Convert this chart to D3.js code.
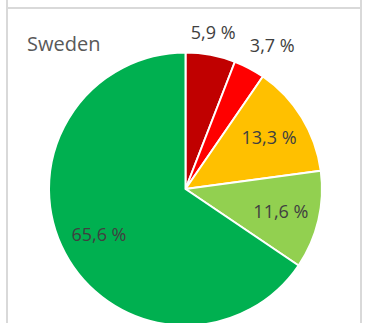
<!DOCTYPE html>
<html>
<head>
<meta charset="utf-8">
<script src="https://cdn.jsdelivr.net/npm/d3@7/dist/d3.min.js"></script>
<style>
  html, body { margin: 0; padding: 0; background: #fff; }
  svg { display: block; }
</style>
</head>
<body>
<svg id="chart" width="365" height="323"></svg>
<script>
// Share of each category for Sweden, clockwise from 12 o'clock
const categories = ["Kategori 1", "Kategori 2", "Kategori 3", "Kategori 4", "Kategori 5"];
const values = [5.9, 3.7, 13.3, 11.6, 65.6];
const labels = ["5,9 %", "3,7 %", "13,3 %", "11,6 %", "65,6 %"];
const colors = ["#C00000", "#FF0000", "#FFC000", "#92D050", "#00B050"];
const title = "Sweden";

const W = 365, H = 323;
const cx = 185.5, cy = 189, radius = 136.5;
const svg = d3.select("#chart");

// panel frame
const frame = svg.append("g").attr("stroke", "#d9d9d9").attr("stroke-width", 2).attr("fill", "none");
frame.append("line").attr("x1", 7).attr("x2", 7).attr("y1", 0).attr("y2", H);
frame.append("line").attr("x1", 361).attr("x2", 361).attr("y1", 0).attr("y2", H);
frame.append("line").attr("x1", 7).attr("x2", 361).attr("y1", 8).attr("y2", 8);

svg.append("text")
  .attr("x", 27).attr("y", 51)
  .attr("font-family", "'Open Sans', 'Noto Sans', sans-serif")
  .attr("font-size", 20)
  .attr("fill", "#595959")
  .text(title);

const data = categories.map((c, i) => ({ cat: c, value: values[i], label: labels[i], color: colors[i] }));

const pie = d3.pie().value(d => d.value).sort(null);
const arcs = pie(data);
const arc = d3.arc().innerRadius(0).outerRadius(radius);

const g = svg.append("g").attr("transform", `translate(${cx},${cy})`);

g.selectAll("path.slice")
  .data(arcs)
  .join("path")
  .attr("class", "slice")
  .attr("d", arc)
  .attr("fill", d => d.data.color)
  .attr("stroke", "#fff")
  .attr("stroke-width", 2)
  .attr("stroke-linejoin", "round");

// Labels: inside the slice when it is large enough, otherwise just outside the rim
const insideArc = d3.arc().innerRadius(98).outerRadius(98);
const outsideR = radius + 14;
const fontSize = 18;

g.selectAll("text.val")
  .data(arcs)
  .join("text")
  .attr("class", "val")
  .attr("font-family", "'Open Sans', 'Noto Sans', sans-serif")
  .attr("font-size", fontSize)
  .attr("fill", "#404040")
  .each(function (d) {
    const t = d3.select(this).text(d.data.label);
    const share = d.endAngle - d.startAngle;
    const mid = (d.startAngle + d.endAngle) / 2;
    if (share > 0.5) {
      const [x, y] = insideArc.centroid(d);
      t.attr("x", x).attr("y", y).attr("dy", "0.35em").attr("text-anchor", "middle");
    } else {
      const px = Math.sin(mid) * outsideR;
      const py = -Math.cos(mid) * outsideR;
      if (Math.abs(Math.sin(mid)) < 0.3) {
        t.attr("x", px).attr("y", py - 2).attr("text-anchor", "middle");
      } else {
        t.attr("x", px - 6).attr("y", py - 4).attr("text-anchor", "start");
      }
    }
  });
</script>
</body>
</html>
